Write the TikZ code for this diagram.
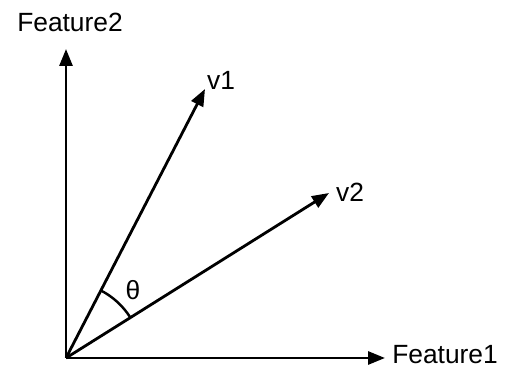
\documentclass[tikz,border=0pt]{standalone}
\usepackage{fontspec}
\setmainfont{Liberation Sans}
\usetikzlibrary{arrows.meta,calc}
\tikzset{
  lbl/.style={font=\fontsize{15}{18}\selectfont,inner sep=0pt},
  arr/.style={-{Triangle[length=3.4mm,width=2.6mm]},line width=1.6pt},
}

\begin{document}
\begin{tikzpicture}[x=0.02cm,y=0.02cm]
\useasboundingbox (0,0) rectangle (509,367);
% axes and vectors
\coordinate (o) at (66,9);
\coordinate (f2) at (66,318);
\coordinate (f1) at (385,9);
\coordinate (a1) at (205,278);
\coordinate (a2) at (329,174);
\draw[arr] (o) -- (f2);
\draw[arr] (o) -- (f1);
\draw[arr] (o) -- (a1);
\draw[arr] (o) -- (a2);
% angle between v1 and v2
\draw[line width=1.4pt] ($(o)+(32:76)$) arc[start angle=32,end angle=62.6,radius=76];
\node[lbl] (th) at (133,77) {θ};
\node[lbl] (l2) at (70,345) {Feature2};
\node[lbl] (l1) at (445,12) {Feature1};
\node[lbl] (n1) at (221,287) {v1};
\node[lbl] (n2) at (350,175) {v2};
\end{tikzpicture}
\end{document}
